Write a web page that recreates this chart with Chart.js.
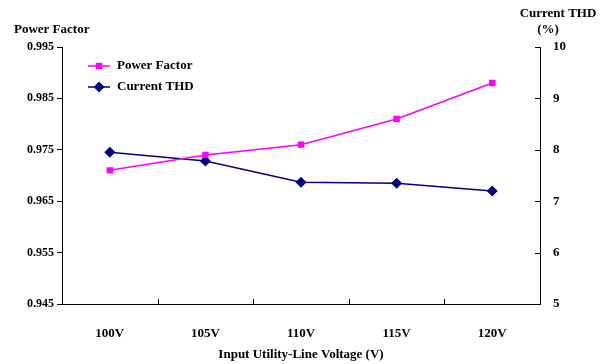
<!DOCTYPE html>
<html>
<head>
<meta charset="utf-8">
<script src="https://cdn.jsdelivr.net/npm/chart.js@4.4.0/dist/chart.umd.min.js"></script>
<style>
  html, body { margin: 0; padding: 0; background: #fff; }
  #wrap { width: 608px; height: 364px; position: relative; }
</style>
</head>
<body>
<div id="wrap"><canvas id="grafico"></canvas></div>
<script>
// datos
const voltajes = ['100V', '105V', '110V', '115V', '120V'];
const factorPotencia = [0.971, 0.974, 0.976, 0.981, 0.988];
const thdCorriente = [7.95, 7.78, 7.37, 7.35, 7.2];
const ticksPF = [0.945, 0.955, 0.965, 0.975, 0.985, 0.995];
const ticksTHD = [5, 6, 7, 8, 9, 10];

const fuente = "'Liberation Serif', 'Times New Roman', serif";
const negro = '#000';

// titulos de ejes arriba, leyenda y marcas hacia dentro
const extras = {
  id: 'extras',
  afterDraw(chart) {
    const ctx = chart.ctx;
    const area = chart.chartArea;
    const x = chart.scales.x;
    const yR = chart.scales.y2;
    ctx.save();
    ctx.strokeStyle = negro;
    ctx.lineWidth = 1;
    // marcas eje x (entre categorias, hacia arriba)
    for (let i = 0; i <= voltajes.length; i++) {
      const px = Math.round(x.getPixelForValue(i - 0.5)) + 0.5;
      ctx.beginPath();
      ctx.moveTo(px, area.bottom);
      ctx.lineTo(px, area.bottom - 5);
      ctx.stroke();
    }
    // marcas eje derecho (hacia dentro)
    ticksTHD.forEach(v => {
      const py = Math.round(yR.getPixelForValue(v)) + 0.5;
      ctx.beginPath();
      ctx.moveTo(area.right, py);
      ctx.lineTo(area.right - 5, py);
      ctx.stroke();
    });

    ctx.fillStyle = negro;
    ctx.font = 'bold 13px ' + fuente;
    ctx.textBaseline = 'middle';
    ctx.textAlign = 'left';
    ctx.fillText('Power Factor', 14, 30);
    ctx.textAlign = 'center';
    ctx.fillText('Current THD', 558, 14);
    ctx.fillText('(%)', 548, 30);

    // leyenda
    ctx.font = 'bold 13px ' + fuente;
    ctx.textAlign = 'left';
    chart.data.datasets.forEach((ds, i) => {
      const ly = 66 + i * 21;
      ctx.strokeStyle = ds.borderColor;
      ctx.lineWidth = ds.borderWidth;
      ctx.beginPath();
      ctx.moveTo(88, ly);
      ctx.lineTo(110, ly);
      ctx.stroke();
      ctx.fillStyle = ds.pointBackgroundColor;
      Chart.helpers.drawPoint(ctx, { pointStyle: ds.pointStyle, radius: ds.pointRadius, borderWidth: 0 }, 99, ly);
      ctx.fillStyle = negro;
      ctx.fillText(ds.label, 117, ly);
    });
    ctx.restore();
  }
};

const ctx = document.getElementById('grafico').getContext('2d');
const grafico = new Chart(ctx, {
  type: 'line',
  data: {
    labels: voltajes,
    datasets: [
      {
        label: 'Power Factor',
        data: factorPotencia,
        yAxisID: 'y',
        borderColor: '#ff00ff',
        backgroundColor: '#ff00ff',
        pointBackgroundColor: '#ff00ff',
        pointBorderColor: '#ff00ff',
        borderWidth: 1.5,
        pointStyle: 'rect',
        pointRadius: 4.5,
        pointBorderWidth: 0,
        tension: 0
      },
      {
        label: 'Current THD',
        data: thdCorriente,
        yAxisID: 'y2',
        borderColor: '#000080',
        backgroundColor: '#000080',
        pointBackgroundColor: '#000080',
        pointBorderColor: '#000080',
        borderWidth: 1.5,
        pointStyle: 'rectRot',
        pointRadius: 5.5,
        pointBorderWidth: 0,
        tension: 0
      }
    ]
  },
  options: {
    responsive: true,
    maintainAspectRatio: false,
    animation: false,
    layout: { padding: { top: 47, left: 0, right: 0, bottom: 0 } },
    plugins: { legend: { display: false }, tooltip: { enabled: false } },
    scales: {
      x: {
        offset: true,
        grid: { display: false },
        border: { color: negro, width: 1 },
        ticks: { color: negro, font: { family: fuente, size: 13, weight: 'bold' }, padding: 14 },
        title: {
          display: true,
          text: 'Input Utility-Line Voltage (V)',
          color: negro,
          font: { family: fuente, size: 13, weight: 'bold' },
          padding: { top: 4, bottom: 2 }
        },
        afterFit(scale) { scale.height = 60; }
      },
      y: {
        position: 'left',
        min: 0.945,
        max: 0.995,
        afterBuildTicks(scale) { scale.ticks = ticksPF.map(v => ({ value: v })); },
        grid: { drawOnChartArea: false, tickLength: 5, color: negro },
        border: { color: negro, width: 1 },
        ticks: {
          color: negro,
          font: { family: fuente, size: 12, weight: 'bold' },
          padding: 3,
          callback: v => Number(v).toFixed(3)
        },
        afterFit(scale) { scale.width = 62; }
      },
      y2: {
        position: 'right',
        min: 5,
        max: 10,
        afterBuildTicks(scale) { scale.ticks = ticksTHD.map(v => ({ value: v })); },
        grid: { drawOnChartArea: false, drawTicks: false },
        border: { color: negro, width: 1 },
        ticks: {
          color: negro,
          font: { family: fuente, size: 13, weight: 'bold' },
          padding: 13
        },
        afterFit(scale) { scale.width = 68; }
      }
    }
  },
  plugins: [extras]
});
</script>
</body>
</html>
